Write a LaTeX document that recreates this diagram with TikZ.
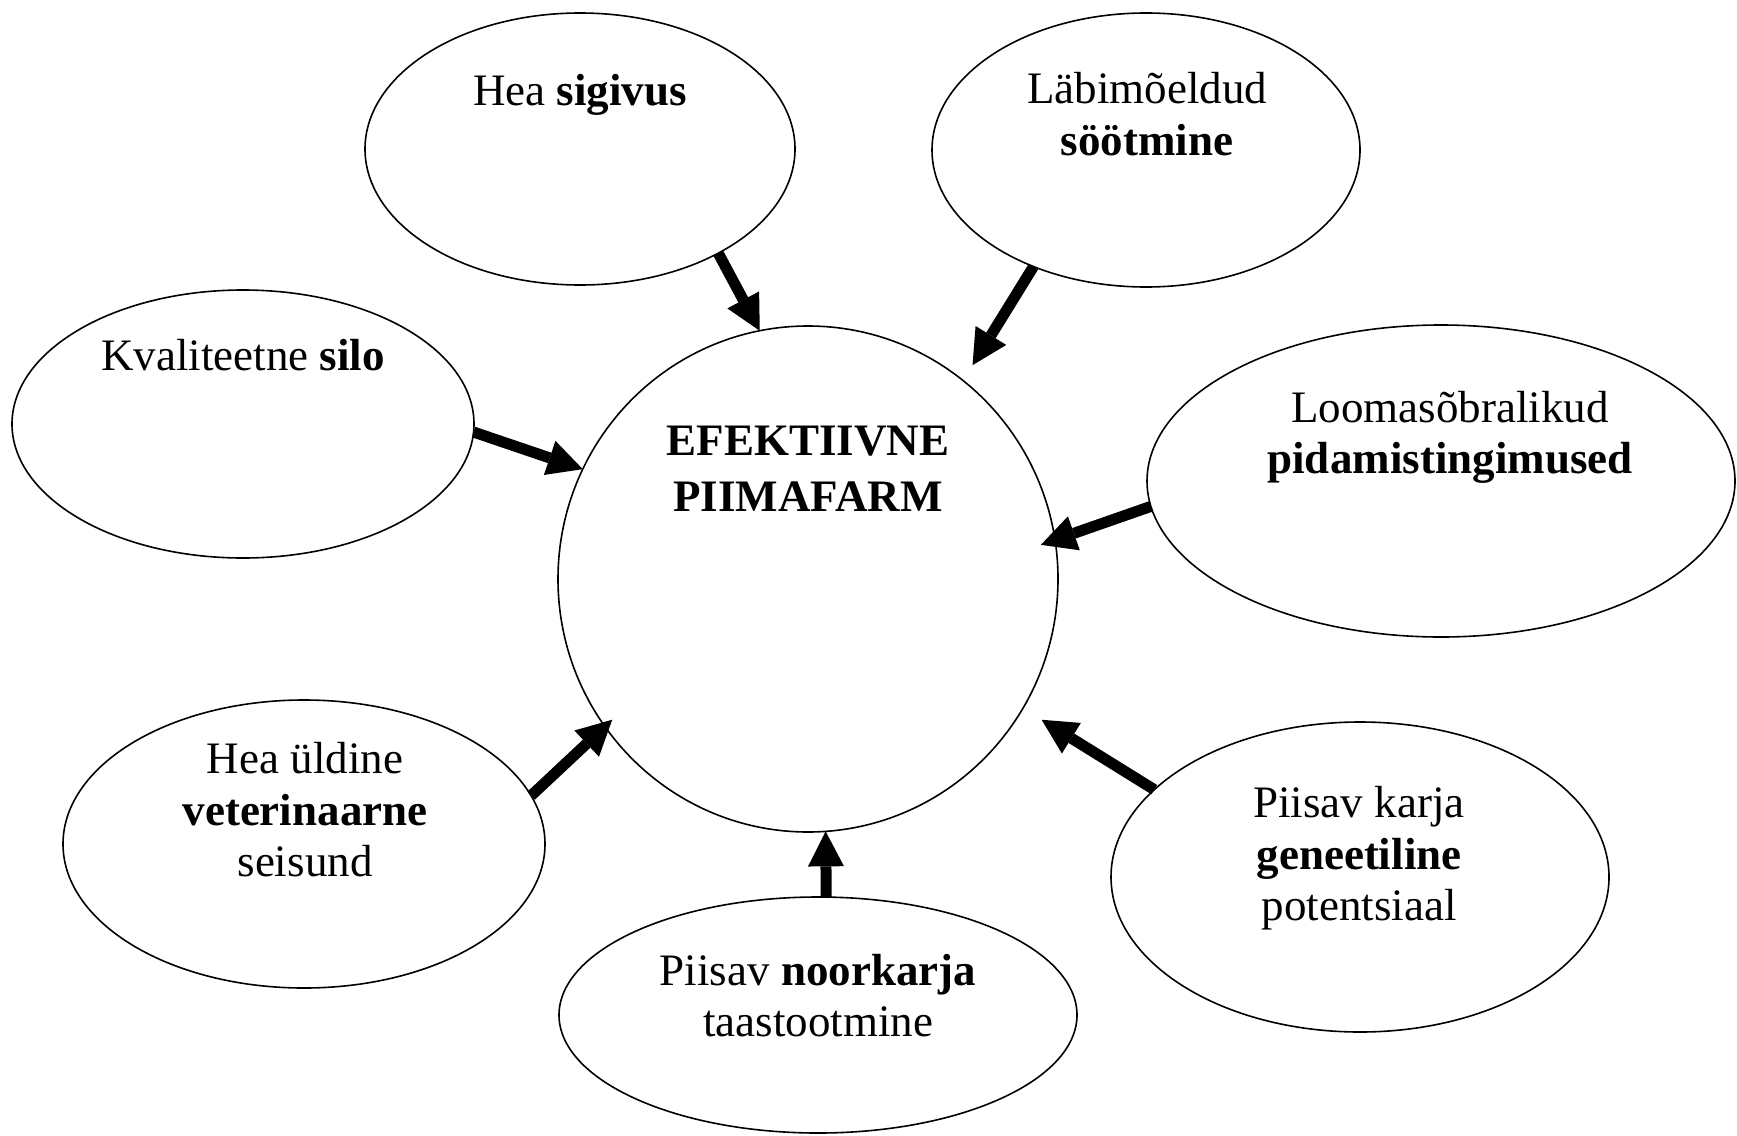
\documentclass[tikz,border=0pt]{standalone}
\usepackage{fontspec}
\setmainfont{Liberation Serif}
\usetikzlibrary{shapes.geometric,arrows.meta}
\begin{document}
\begin{tikzpicture}[x=1pt,y=-1pt,
  bub/.style={ellipse,draw,line width=1.6pt,inner sep=0pt,outer sep=0pt},
  txt/.style={anchor=base,inner sep=0pt,font=\fontsize{45}{52}\selectfont},
  arr/.style={line width=11pt,-{Triangle[length=35pt,width=36pt,line width=0pt]}}]
\useasboundingbox[fill=white] (0,0) rectangle (1737,1135);
% bubbles
\node[bub,minimum width=500pt,minimum height=506pt] (C) at (808,579) {};
\node[bub,minimum width=430pt,minimum height=272pt] (sig) at (580,149) {};
\node[bub,minimum width=428pt,minimum height=274pt] (soo) at (1146,150) {};
\node[bub,minimum width=462pt,minimum height=268pt] (silo) at (243,424) {};
\node[bub,minimum width=588pt,minimum height=312pt] (loom) at (1441,481) {};
\node[bub,minimum width=482pt,minimum height=288pt] (vet) at (304,844) {};
\node[bub,minimum width=498pt,minimum height=310pt] (gen) at (1360,877) {};
\node[bub,minimum width=518pt,minimum height=236pt] (noor) at (818,1015) {};
% texts
\node[txt] (CT1) at (808,455) {\textbf{EFEKTIIVNE}};
\node[txt] (CT2) at (808,511) {\textbf{PIIMAFARM}};
\node[txt] (sigT) at (580,105) {Hea \textbf{sigivus}};
\node[txt] (sooT1) at (1147,103) {Läbimõeldud};
\node[txt] (sooT2) at (1147,155) {\textbf{söötmine}};
\node[txt] (siloT) at (243,370) {Kvaliteetne \textbf{silo}};
\node[txt] (loomT1) at (1450,422) {Loomasõbralikud};
\node[txt] (loomT2) at (1450,473) {\textbf{pidamistingimused}};
\node[txt] (vetT1) at (305,773) {Hea üldine};
\node[txt] (vetT2) at (305,825) {\textbf{veterinaarne}};
\node[txt] (vetT3) at (305,876) {seisund};
\node[txt] (genT1) at (1359,817) {Piisav karja};
\node[txt] (genT2) at (1359,869) {\textbf{geneetiline}};
\node[txt] (genT3) at (1359,920) {potentsiaal};
\node[txt] (noorT1) at (818,985) {Piisav \textbf{noorkarja}};
\node[txt] (noorT2) at (818,1036) {taastootmine};
% arrows
\draw[arr] (sig.-37.3) -- (C.101.5);
\draw[arr,shorten >=18pt] (soo.226.1) -- (C.52.9);
\draw[arr] (silo.-2.7) -- (C.154.8);
\draw[arr,shorten >=-15pt] (loom.185) -- (C.9);
\draw[arr,shorten >=-10pt] (vet.12.7) -- (C.216.1);
\draw[arr] (noor.86.6) -- (C.-86.1);
\draw[arr,shorten >=22pt] (gen.157.8) -- (C.-31.5);
\end{tikzpicture}
\end{document}
